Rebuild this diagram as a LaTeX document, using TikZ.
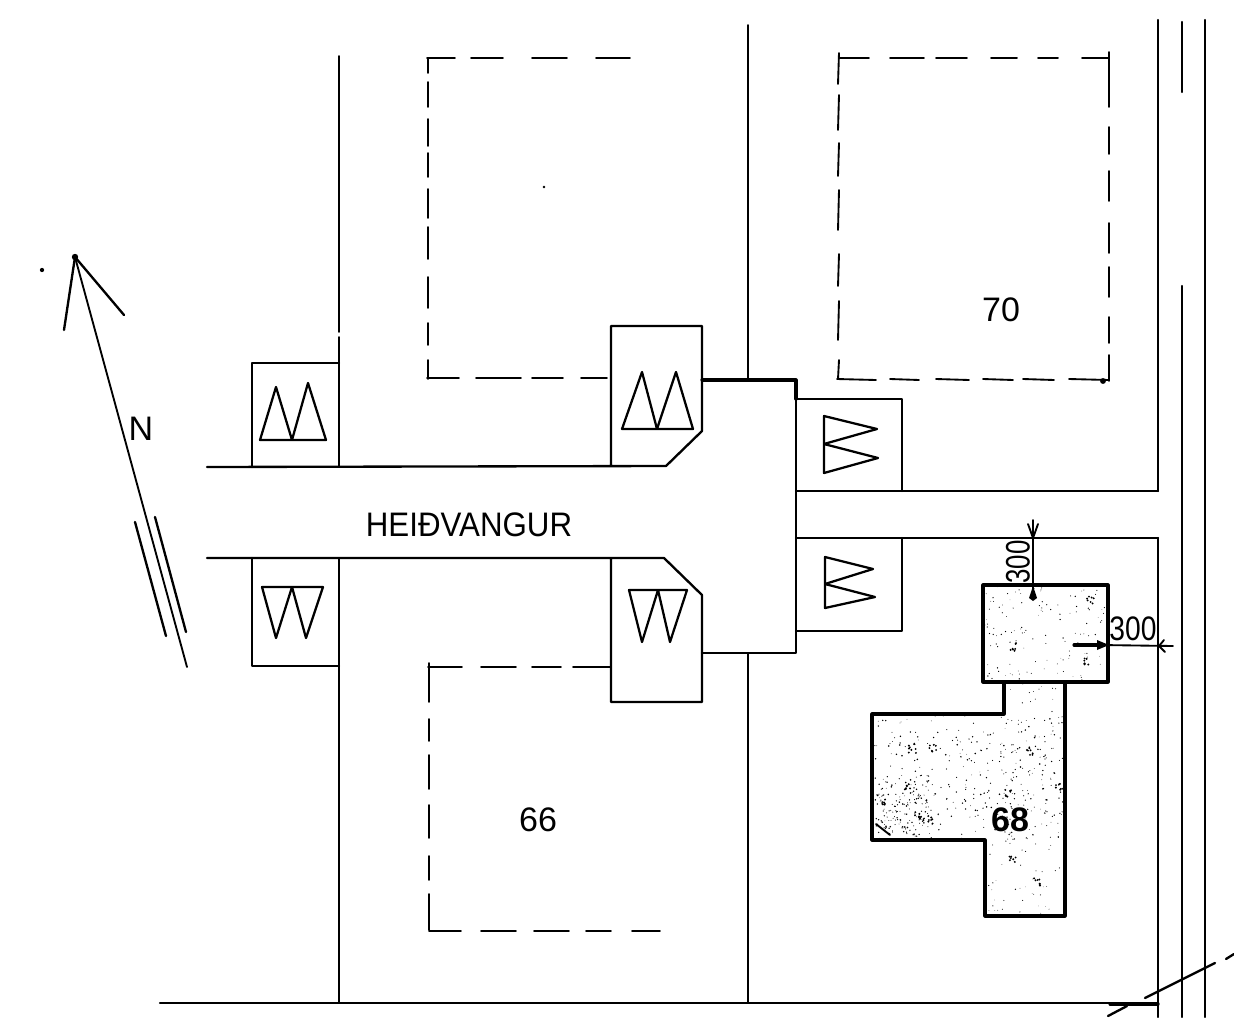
\documentclass[tikz,border=0pt]{standalone}
\usepackage{graphicx}
\usepackage{fontspec}
\setmainfont{Liberation Sans}
\tikzset{
  ln/.style={line width=1.75pt,line join=round,line cap=round,black},
  lnthin/.style={line width=1.4pt,line join=round,line cap=round,black},
  lnheavy/.style={line width=2.4pt,line join=round,line cap=round,black},
  tri/.style={line width=1.7pt,line join=round,line cap=round,black},
  lab/.style={inner sep=0pt,outer sep=0pt,font=\fontsize{25.5pt}{28pt}\selectfont,text=black}
}
\begin{document}
\begin{tikzpicture}[x=0.75pt,y=-0.75pt]
\useasboundingbox (0,0) rectangle (1234,1017);
\fill[white] (0,0) rectangle (1234,1017);

% house 68 with speckle
\begin{scope}
\clip (983,585) -- (1108,585) -- (1108,682) -- (1065,682) -- (1065,916) -- (985,916) -- (985,840) -- (872,840) -- (872,714) -- (1004,714) -- (1004,682) -- (983,682) -- cycle;
\pgfmathsetseed{4711}
\foreach \i in {1,...,300}{
  \pgfmathsetmacro{\sx}{872+193*rnd}
  \pgfmathsetmacro{\sy}{714+126*rnd}
  \pgfmathsetmacro{\sr}{0.25+0.4*rnd}
  \fill[black] (\sx,\sy) circle[radius=\sr pt];
}
\foreach \i in {1,...,130}{
  \pgfmathsetmacro{\sx}{875+55*rnd}
  \pgfmathsetmacro{\sy}{775+60*rnd}
  \pgfmathsetmacro{\sr}{0.25+0.45*rnd}
  \fill[black] (\sx,\sy) circle[radius=\sr pt];
}
\foreach \i in {1,...,130}{
  \pgfmathsetmacro{\sx}{983+125*rnd}
  \pgfmathsetmacro{\sy}{585+97*rnd}
  \pgfmathsetmacro{\sr}{0.2+0.35*rnd}
  \fill[black] (\sx,\sy) circle[radius=\sr pt];
}
\foreach \i in {1,...,140}{
  \pgfmathsetmacro{\sx}{985+80*rnd}
  \pgfmathsetmacro{\sy}{682+234*rnd}
  \pgfmathsetmacro{\sr}{0.2+0.35*rnd}
  \fill[black] (\sx,\sy) circle[radius=\sr pt];
}
\foreach \cx/\cy in {882/803,912/749,933/748,1030/751,1009/793,908/787,918/815,930/820,1012/858,1038/882,1013/647,1087/662,1090/600,1059/787}{
  \foreach \j in {1,...,7}{
    \pgfmathsetmacro{\sx}{\cx-4+8*rnd}
    \pgfmathsetmacro{\sy}{\cy-4+8*rnd}
    \fill[black] (\sx,\sy) circle[radius=0.8pt];
  }
}
\draw[lnthin] (876,824) -- (890,835);
\end{scope}
\draw[lnheavy] (983,585) -- (1108,585) -- (1108,682) -- (983,682) -- cycle;
\draw[lnheavy] (1004,682) -- (1004,714) -- (872,714) -- (872,840) -- (985,840) -- (985,916) -- (1065,916) -- (1065,682);

% long street lines
\draw[lnthin] (339,56) -- (339,332);
\draw[lnthin] (339,337) -- (339,467);
\draw[lnthin] (339,558) -- (339,1003);
\draw[lnthin] (748,25) -- (748,380);
\draw[lnthin] (748,653) -- (748,1003);
\draw[ln] (1158,20) -- (1158,491);
\draw[ln] (1158,538) -- (1158,1017);
\draw[ln] (1182,22) -- (1182,92);
\draw[ln] (1182,286) -- (1182,1017);
\draw[ln] (1205,20) -- (1205,1017);
\draw[ln] (160,1003) -- (1158,1003);
\draw[lnheavy] (1110,1004) -- (1158,1004);

% break marks
\draw[ln] (1145,998) -- (1215,963);
\draw[ln] (1226,959) -- (1234,954);
\draw[ln] (1108,1016) -- (1127,1006);

% road edges and garage plots
\draw[ln] (207,467) -- (666,466) -- (702,431) -- (702,326) -- (611,326) -- (611,466);
\draw[ln] (207,558) -- (664,558) -- (702,595) -- (702,702) -- (611,702) -- (611,558);
\draw[lnheavy] (702,380) -- (796,380) -- (796,399);
\draw[ln] (796,399) -- (796,653) -- (702,653);
\draw[ln] (796,399) -- (902,399) -- (902,491);
\draw[ln] (796,491) -- (1158,491);
\draw[ln] (796,538) -- (1158,538);
\draw[ln] (902,538) -- (902,631) -- (796,631);
\draw[ln] (339,363) -- (252,363) -- (252,467);
\draw[ln] (252,558) -- (252,666) -- (339,666);

% parking triangles
\draw[tri] (292,440) -- (276,387) -- (260,440) -- (326,440) -- (308,383) -- (292,440);
\draw[tri] (292,587) -- (276,638) -- (262,587) -- (323,587) -- (306,638) -- (292,587);
\draw[tri] (657,429) -- (642,372) -- (622,429) -- (693,429) -- (676,372) -- (657,429);
\draw[tri] (658,590) -- (642,642) -- (629,590) -- (687,590) -- (670,642) -- (658,590);
\draw[tri] (824,444) -- (877,429) -- (824,416) -- (824,473) -- (878,458) -- (824,444);
\draw[tri] (825,584) -- (873,569) -- (825,557) -- (825,608) -- (875,597) -- (825,584);

% dashed house outlines
\foreach \a/\b in {840/869,890/924,936/967,991/1017,1038/1058,1082/1109} \draw[lnthin] (\a,58) -- (\b,58);
\foreach \a/\b in {52/107,127/154,171/201,223/253,267/297,317/343,355/381} \draw[lnthin] (1109,\a) -- (1109,\b);
\foreach \a/\b in {837/876,890/919,936/969,983/1013,1023/1054,1069/1109} \draw[lnthin] (\a,379) -- (\b,380);
\foreach \a/\b in {53/84,95/130,143/176,190/230,254/286,301/340,360/379} \draw[lnthin] (839,\a) -- (838,\b);
\fill[black] (1103,381) circle[radius=2.2pt];

\foreach \a/\b in {427/455,471/503,532/567,596/630} \draw[lnthin] (\a,58) -- (\b,58);
\foreach \a/\b in {58/73,82/107,119/146,153/177,189/218,227/259,277/308,323/345,360/379} \draw[lnthin] (428,\a) -- (428,\b);
\foreach \a/\b in {427/459,476/521,532/563,581/607} \draw[lnthin] (\a,378) -- (\b,378);
\fill[black] (544,187) circle[radius=1pt];

\foreach \a/\b in {428/462,481/516,532/561,573/611} \draw[lnthin] (\a,667) -- (\b,667);
\foreach \a/\b in {663/702,719/741,755/789,805/838,856/880,894/930} \draw[lnthin] (429,\a) -- (429,\b);
\foreach \a/\b in {429/461,481/516,534/569,586/611,632/660} \draw[lnthin] (\a,931) -- (\b,931);

% north arrow
\draw[lnthin] (75,257) -- (187,667);
\draw[ln] (64,330) -- (75,257) -- (124,315);
\fill[black] (75,257) circle[radius=2.4pt];
\draw[ln] (135,522) -- (166,636);
\draw[ln] (155,517) -- (186,632);
\fill[black] (42,270) circle[radius=1.6pt];

% dimension marks
\draw[lnthin] (1033,520) -- (1033,590);
\draw[lnthin] (1028,524) -- (1033,538) -- (1038,524);
\fill[black] (1033,586) -- (1029,598) -- (1033,601) -- (1037,598) -- cycle;
\draw[lnthin] (1100,645) -- (1173,646);
\draw[lnheavy] (1074,645) -- (1100,645);
\fill[black] (1109,645) -- (1097,640) -- (1097,650) -- cycle;
\draw[lnthin] (1164,640) -- (1159,646) -- (1165,652);

% labels
\node[lab] (street) at (469,525) {\scalebox{0.92}[1]{HEIÐVANGUR}};
\node[lab] (north) at (141,429) {N};
\node[lab] (lot70) at (1001,310) {70};
\node[lab] (lot66) at (538,820) {66};
\node[lab,font=\fontsize{25.5pt}{28pt}\selectfont\bfseries] (lot68) at (1010,820) {68};
\node[lab,rotate=90] (dimv) at (1018,562) {\scalebox{0.76}[1]{300}};
\node[lab] (dimh) at (1133,629) {\scalebox{0.83}[1]{300}};
\end{tikzpicture}
\end{document}
